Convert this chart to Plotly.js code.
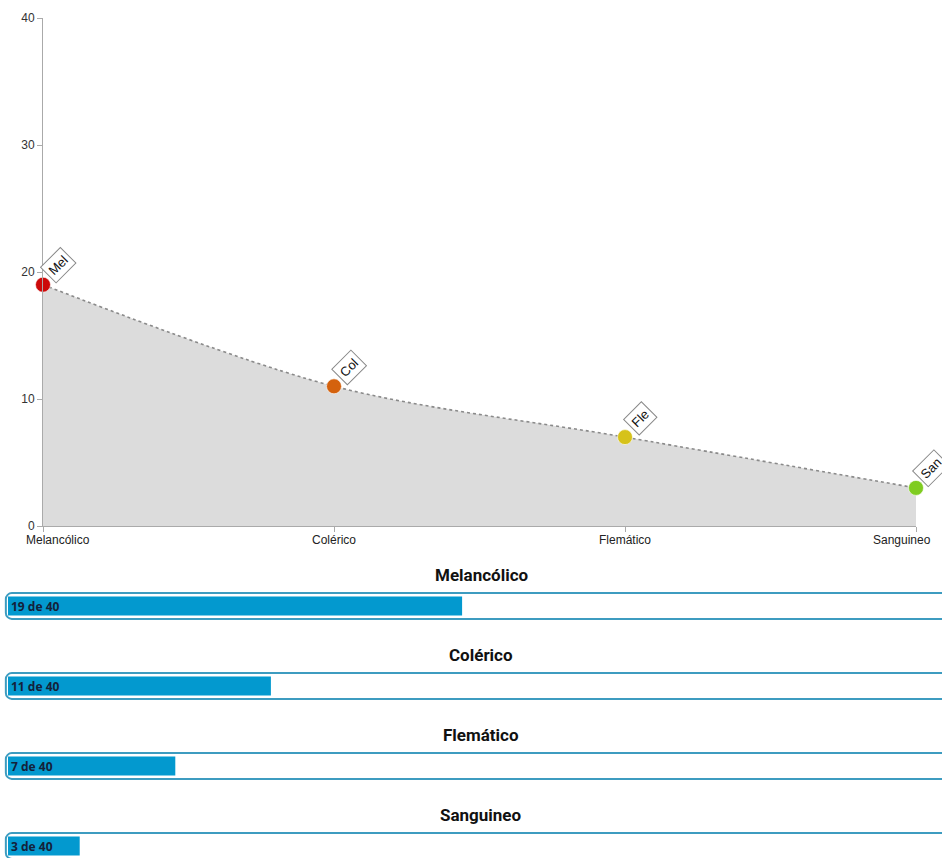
<!DOCTYPE html>
<html>
<head>
<meta charset="utf-8">
<script src="https://cdn.plot.ly/plotly-3.0.1.min.js"></script>
<style>
  html, body { margin: 0; padding: 0; background: #fff; overflow: hidden; }
  #chart { width: 942px; height: 858px; }
</style>
</head>
<body>
<div id="chart"></div>
<script>
// ---- data ----
const categories = ['Melancólico', 'Colérico', 'Flemático', 'Sanguineo'];
const shortLabels = ['Mel', 'Col', 'Fle', 'San'];
const values = [19, 11, 7, 3];
const maxValue = 40;
const yTicks = [0, 10, 20, 30, 40];
const pointColors = ['#cc0a0a', '#d4620e', '#d6c21a', '#7fcc20'];

// ---- layout helpers (pixels) ----
const W = 942, H = 858;
const px = v => v / W;
const py = v => 1 - v / H;

const data = [];
const layout = {
  width: W, height: H,
  margin: {l: 0, r: 0, t: 0, b: 0},
  paper_bgcolor: '#fff', plot_bgcolor: 'rgba(0,0,0,0)',
  showlegend: false,
  hovermode: false,
  barmode: 'overlay',
  barcornerradius: 6,
  font: {family: 'Liberation Sans, Arial, sans-serif', size: 12, color: '#333'},
  annotations: [],
  xaxis: {
    domain: [px(43), px(916)],
    anchor: 'y',
    type: 'category',
    range: [0, categories.length - 1],
    showgrid: false, zeroline: false,
    showline: true, linecolor: '#aaa', linewidth: 1,
    ticks: 'outside', ticklen: 5, tickcolor: '#aaa',
    showticklabels: false,
    fixedrange: true
  },
  yaxis: {
    domain: [py(526), py(18)],
    anchor: 'x',
    range: [0, maxValue],
    tickvals: yTicks,
    showgrid: false, zeroline: false,
    showline: true, linecolor: '#aaa', linewidth: 1,
    ticks: 'outside', ticklen: 5, tickcolor: '#aaa',
    tickfont: {size: 12, color: '#333'},
    fixedrange: true
  }
};

// area + line + points
data.push({
  type: 'scatter',
  x: categories, y: values,
  xaxis: 'x', yaxis: 'y',
  mode: 'lines+markers',
  fill: 'tozeroy',
  fillcolor: '#dcdcdc',
  line: {color: '#8a8a8a', width: 1.6, dash: 'dot', shape: 'spline', smoothing: 0.9},
  marker: {size: 15, color: pointColors, line: {color: 'rgba(255,255,255,0.6)', width: 1}},
  cliponaxis: false
});

// x labels (shifted inward at the ends, as in the reference)
categories.forEach((c, i) => {
  const first = i === 0, last = i === categories.length - 1;
  layout.annotations.push({
    xref: 'x', yref: 'y', x: c, y: 0,
    text: c, showarrow: false,
    xanchor: first ? 'left' : (last ? 'right' : 'center'),
    xshift: first ? -19 : (last ? 17 : 0),
    yanchor: 'top', yshift: -5,
    font: {size: 12, color: '#222'}
  });
});

// tags
categories.forEach((c, i) => {
  layout.annotations.push({
    xref: 'x', yref: 'y', x: c, y: values[i],
    text: shortLabels[i], showarrow: false,
    textangle: -45,
    xshift: 15, yshift: 19,
    bgcolor: '#fff', bordercolor: '#888', borderwidth: 1, borderpad: 3,
    font: {size: 13, color: '#111'}
  });
});

// progress bars
const centers = [606, 686, 766, 846];
const pxPerUnit = 23.9;
categories.forEach((c, i) => {
  const k = i + 2;
  const cy = centers[i];
  const top = cy - 15;
  const bottom = Math.min(cy + 15, H);
  layout['xaxis' + k] = {
    domain: [0, 1], anchor: 'y' + k,
    range: [-8 / pxPerUnit, (W - 8) / pxPerUnit],
    visible: false, fixedrange: true
  };
  layout['yaxis' + k] = {
    domain: [py(bottom), py(top)], anchor: 'x' + k,
    range: [-(bottom - cy) / 30, 0.5],
    visible: false, fixedrange: true
  };
  // frame
  data.push({
    type: 'bar', orientation: 'h',
    x: [maxValue + 0.2], y: [0], base: -0.09,
    xaxis: 'x' + k, yaxis: 'y' + k,
    width: 0.86,
    marker: {color: '#fff', line: {color: '#3d9cc0', width: 2}, cornerradius: 6}
  });
  // fill
  data.push({
    type: 'bar', orientation: 'h',
    x: [values[i]], y: [0],
    xaxis: 'x' + k, yaxis: 'y' + k,
    width: 0.64,
    marker: {color: '#0399cf', line: {width: 0}, cornerradius: 6},
    text: [values[i] + ' de ' + maxValue],
    textposition: 'inside', insidetextanchor: 'start',
    constraintext: 'none',
    textfont: {family: 'Open Sans, sans-serif', size: 12, color: '#14213a', weight: 'bold'}
  });
  // title
  layout.annotations.push({
    xref: 'paper', yref: 'paper', x: px(481), y: py(cy - 31),
    text: '<b>' + c + '</b>', showarrow: false,
    xanchor: 'center', yanchor: 'middle',
    font: {family: 'Roboto, sans-serif', size: 17, color: '#111'}
  });
});

Plotly.newPlot('chart', data, layout, {displayModeBar: false, staticPlot: true});
</script>
</body>
</html>
